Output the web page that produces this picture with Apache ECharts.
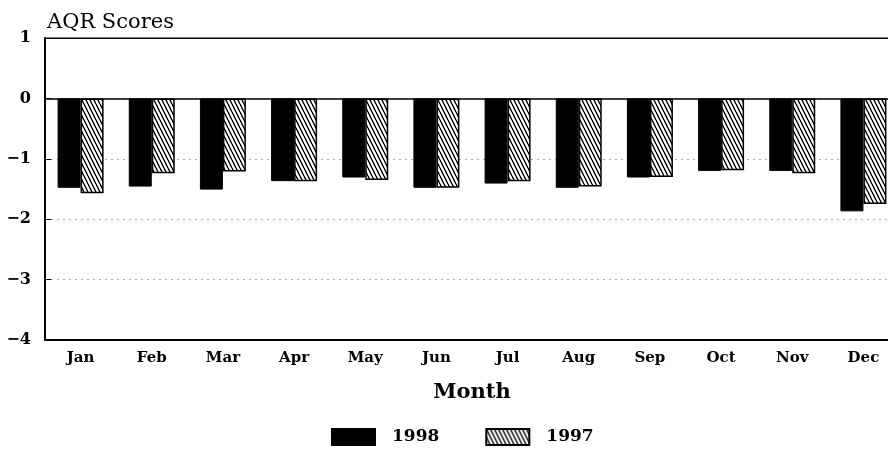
<!DOCTYPE html>
<html>
<head>
<meta charset="utf-8">
<script src="https://cdn.jsdelivr.net/npm/echarts@6/dist/echarts.min.js"></script>
<style>
  html, body { margin: 0; padding: 0; background: #fff; }
  #chart { width: 888px; height: 453px; }
</style>
</head>
<body>
<div id="chart"></div>
<script>
const months = ['Jan', 'Feb', 'Mar', 'Apr', 'May', 'Jun', 'Jul', 'Aug', 'Sep', 'Oct', 'Nov', 'Dec']
const scores1998 = [-1.48, -1.46, -1.51, -1.37, -1.31, -1.48, -1.41, -1.48, -1.31, -1.20, -1.20, -1.87]
const scores1997 = [-1.57, -1.24, -1.21, -1.37, -1.35, -1.48, -1.37, -1.46, -1.30, -1.19, -1.24, -1.75]
const yTicks = [-4, -3, -2, -1, 0, 1]

// hatch fill for 1997 bars
function makeHatch() {
  const c = document.createElement('canvas')
  c.width = 4
  c.height = 8
  const ctx = c.getContext('2d')
  ctx.fillStyle = '#fff'
  ctx.fillRect(0, 0, 4, 8)
  ctx.strokeStyle = '#000'
  ctx.lineWidth = 1.4
  for (let k = -1; k <= 1; k++) {
    ctx.beginPath()
    ctx.moveTo(k * 4, 0)
    ctx.lineTo(k * 4 + 4, 8)
    ctx.stroke()
  }
  return c
}

const font = '"DejaVu Serif", "Liberation Serif", serif'

var chartDom = document.getElementById('chart')
var myChart = echarts.init(chartDom)
const option = {
  animation: false,
  title: {
    text: 'AQR Scores',
    left: 42,
    top: 7,
    textStyle: { fontFamily: font, fontWeight: 'normal', fontSize: 21, color: '#000' }
  },
  legend: {
    bottom: 2,
    left: 326,
    icon: 'rect',
    itemWidth: 43,
    itemHeight: 16,
    itemGap: 46,
    textStyle: { fontFamily: font, fontWeight: 'bold', fontSize: 17, color: '#000', padding: [0, 0, 0, 12] },
    data: ['1998', '1997']
  },
  grid: {
    left: 45,
    top: 38,
    width: 854,
    height: 302,
    outerBoundsMode: 'none',
    containLabel: false,
    show: true,
    borderColor: '#000',
    borderWidth: 1
  },
  xAxis: {
    type: 'category',
    data: months,
    name: 'Month',
    nameLocation: 'middle',
    nameGap: 42,
    nameTextStyle: { fontFamily: font, fontWeight: 'bold', fontSize: 21, color: '#000' },
    axisLine: { onZero: false, lineStyle: { color: '#000', width: 2 } },
    axisTick: { inside: true, alignWithLabel: true, length: 7, lineStyle: { color: '#000' } },
    axisLabel: { fontFamily: font, fontWeight: 'bold', fontSize: 15, color: '#000', margin: 11 }
  },
  yAxis: {
    type: 'value',
    min: yTicks[0],
    max: yTicks[yTicks.length - 1],
    interval: 1,
    axisLine: { show: true, lineStyle: { color: '#000', width: 2 } },
    axisTick: { show: true, inside: true, length: 6, lineStyle: { color: '#000' } },
    axisLabel: {
      fontFamily: font, fontWeight: 'bold', fontSize: 16, color: '#000', margin: 14,
      formatter: v => String(v).replace('-', '\u2212')
    },
    splitLine: { show: true, lineStyle: { color: '#aaa', type: [2, 4], width: 1 } }
  },
  series: [
    {
      name: '1998',
      type: 'bar',
      data: scores1998,
      barWidth: 23,
      barGap: '0%',
      itemStyle: { color: '#000', borderColor: '#000', borderWidth: 1 },
      markLine: {
        silent: true,
        symbol: 'none',
        label: { show: false },
        lineStyle: { color: '#000', type: 'solid', width: 1.5 },
        data: [{ yAxis: 0 }, { yAxis: 1, lineStyle: { width: 1 } }]
      }
    },
    {
      name: '1997',
      type: 'bar',
      data: scores1997,
      barWidth: 23,
      itemStyle: {
        color: { image: makeHatch(), repeat: 'repeat' },
        borderColor: '#000',
        borderWidth: 1.5
      }
    }
  ]
}
option && myChart.setOption(option)
</script>
</body>
</html>
